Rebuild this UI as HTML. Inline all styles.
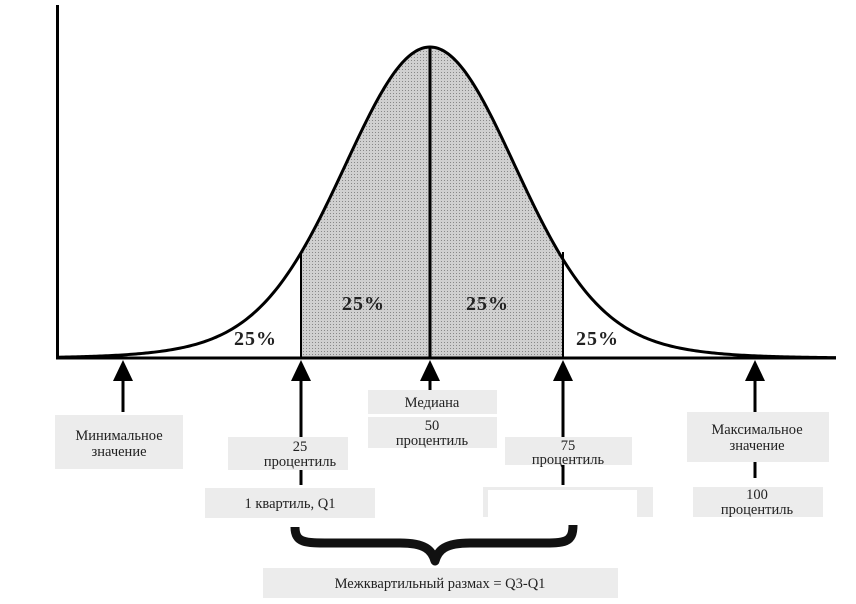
<!DOCTYPE html>
<html><head><meta charset="utf-8"><style>
html,body{margin:0;padding:0;background:#fff;}
svg{display:block;}
text{font-family:"Liberation Serif",serif;fill:#222;}
.b{fill:#ececec;}
.p{font-weight:bold;font-size:20px;fill:#222;letter-spacing:1px;}
.t{font-size:14.5px;text-anchor:middle;}
</style></head><body>
<svg id="s" width="856" height="604" viewBox="0 0 856 604" xmlns="http://www.w3.org/2000/svg">
<defs>
<pattern id="dot" width="3" height="3" patternUnits="userSpaceOnUse">
<rect width="3" height="3" fill="#d0d0d0"/><rect width="1" height="1" fill="#888"/>
</pattern>
</defs>
<path id="shade" fill="url(#dot)" d=""/>
<path id="curve" fill="none" stroke="#000" stroke-width="3" d=""/>
<line x1="57.5" y1="5" x2="57.5" y2="359" stroke="#000" stroke-width="3"/>
<line x1="56" y1="358" x2="836" y2="358" stroke="#000" stroke-width="3"/>
<line x1="430" y1="47" x2="430" y2="358" stroke="#000" stroke-width="3"/>
<line x1="301" y1="254" x2="301" y2="358" stroke="#000" stroke-width="2"/>
<line x1="563" y1="252" x2="563" y2="358" stroke="#000" stroke-width="2"/>
<text class="p" x="234" y="345">25%</text>
<text class="p" x="342" y="310">25%</text>
<text class="p" x="466" y="310">25%</text>
<text class="p" x="576" y="345">25%</text>
<g fill="#000">
<polygon points="123,360 113,381 133,381"/><rect x="121.5" y="378" width="3" height="34"/>
<polygon points="301,360 291,381 311,381"/><rect x="299.5" y="378" width="3" height="59"/><rect x="299.5" y="470" width="3" height="15"/>
<polygon points="430,360 420,381 440,381"/><rect x="428.5" y="378" width="3" height="12"/>
<polygon points="563,360 553,381 573,381"/><rect x="561.5" y="378" width="3" height="59"/><rect x="561.5" y="465" width="3" height="20"/>
<polygon points="755,360 745,381 765,381"/><rect x="753.5" y="378" width="3" height="34"/><rect x="753.5" y="462" width="3" height="16"/>
</g>
<rect class="b" x="55" y="415" width="128" height="54"/>
<text class="t" x="119" y="440">Минимальное</text><text class="t" x="119" y="456">значение</text>
<rect class="b" x="228" y="437" width="120" height="33"/>
<text class="t" x="300" y="451">25</text><text class="t" x="300" y="466">процентиль</text>
<rect class="b" x="205" y="488" width="170" height="30"/>
<text class="t" x="290" y="508">1 квартиль, Q1</text>
<rect class="b" x="368" y="390" width="129" height="24"/>
<text class="t" x="432" y="407">Медиана</text>
<rect class="b" x="368" y="417" width="129" height="31"/>
<text class="t" x="432" y="430">50</text><text class="t" x="432" y="445">процентиль</text>
<rect class="b" x="505" y="437" width="127" height="28"/>
<text class="t" x="568" y="450">75</text><text class="t" x="568" y="464">процентиль</text>
<rect class="b" x="483" y="487" width="170" height="30"/>
<rect fill="#fff" x="488" y="490" width="149" height="27"/>
<rect class="b" x="687" y="412" width="142" height="50"/>
<text class="t" x="757" y="434">Максимальное</text><text class="t" x="757" y="450">значение</text>
<rect class="b" x="693" y="487" width="130" height="30"/>
<text class="t" x="757" y="499">100</text><text class="t" x="757" y="514">процентиль</text>
<path d="M295,527 C295,543 305,543 330,543 L400,543 C425,543 432,550 435,561 C438,550 445,543 470,543 L540,543 C565,543 573,543 573,525" fill="none" stroke="#111" stroke-width="9" stroke-linejoin="round"/>
<rect class="b" x="263" y="568" width="355" height="30"/>
<text class="t" x="440" y="588">Межквартильный размах = Q3-Q1</text>
</svg>
<script>
(function(){
function y(x){var d=x-430;return 358-311*(0.85*Math.exp(-d*d/(2*82*82))+0.15*Math.exp(-d*d/(2*130*130)));}
var d="M60,358";for(var x=60;x<=836;x+=2){d+=" L"+x+","+y(x).toFixed(2);}
document.getElementById("curve").setAttribute("d",d);
var s="M301,358";for(var x=301;x<=563;x+=2){s+=" L"+x+","+y(x).toFixed(2);}
s+=" L563,"+y(563).toFixed(2)+" L563,358 Z";
document.getElementById("shade").setAttribute("d",s);
})();
</script>
</body></html>
